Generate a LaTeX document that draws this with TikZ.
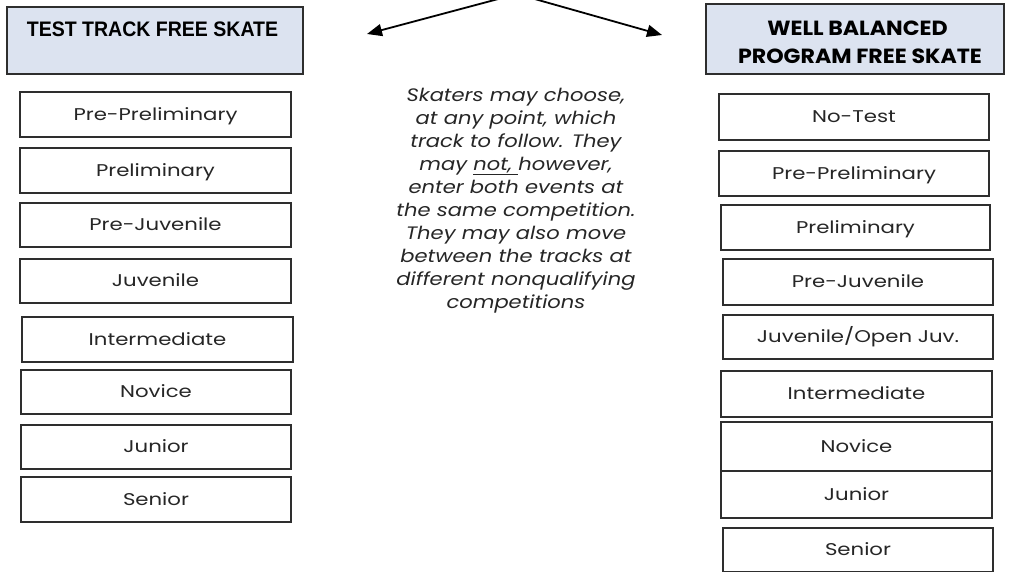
\documentclass[tikz,border=0pt]{standalone}
\usepackage{fontspec}
\usetikzlibrary{arrows.meta}
\newfontfamily\bodyfont{Poppins}[FakeStretch=1.25]
\newfontfamily\notefont{Poppins}[FakeStretch=1.17]
\newfontfamily\headfont{Liberation Sans}[FakeStretch=0.93]
\newfontfamily\headwidefont{Poppins}[FakeStretch=1.08]
\definecolor{boxgray}{HTML}{2E2E2E}
\definecolor{hdrfill}{HTML}{DCE3F0}
\definecolor{txt}{HTML}{262626}
\begin{document}
\begin{tikzpicture}[x=1pt,y=-1pt,
  lvl/.style={draw=boxgray, line width=1.3pt, inner sep=0pt, text=txt,
    font=\bodyfont\fontsize{17}{20}\selectfont, text height=13pt, text depth=2pt},
  hdr/.style={draw=boxgray, line width=1.2pt, fill=hdrfill, inner sep=0pt},
  hdrtext/.style={inner sep=0pt, text=black, font=\headfont\bfseries\fontsize{21}{28}\selectfont},
  hdrwide/.style={inner sep=0pt, text=black, font=\headwidefont\bfseries\fontsize{20.5}{28}\selectfont},
  note/.style={inner sep=0pt, text=txt, align=center,
    font=\notefont\itshape\fontsize{18}{23}\selectfont},
  pointer/.style={draw=black, line width=1.8pt, -{Triangle[length=15pt,width=12pt]}}]
\useasboundingbox (0,0) rectangle (1010,571);
\clip (0,0) rectangle (1010,571);
\fill[white] (0,0) rectangle (1010,571);

% headers
\node[hdr, minimum width=296pt, minimum height=67pt] (lh) at (155,40.5) {};
\node[hdrtext, anchor=base] (lht) at (152.5,36) {TEST TRACK FREE SKATE};
\node[hdr, minimum width=298pt, minimum height=70pt] (rh) at (855,39) {};
\node[hdrwide, anchor=base] (rht1) at (857.5,35) {WELL BALANCED};
\node[hdrwide, anchor=base] (rht2) at (860,63) {PROGRAM FREE SKATE};

% arrows
\coordinate (apex) at (517,-6);
\coordinate (lt) at (367,34);
\coordinate (rt) at (662,35);
\draw[pointer] (apex) -- (lt);
\draw[pointer] (apex) -- (rt);

% note
\node[note, anchor=north] (note) at (516,88) {Skaters may choose,\\ at any point, which\\ track to follow. They\\ may \underline{not, }however,\\ enter both events at\\ the same competition.\\ They may also move\\ between the tracks at\\ different nonqualifying\\ competitions};

% left column
\node[lvl, minimum width=271pt, minimum height=45pt] (l1) at (155.5,114.5) {Pre-Preliminary};
\node[lvl, minimum width=271pt, minimum height=45pt] (l2) at (155.5,170.5) {Preliminary};
\node[lvl, minimum width=271pt, minimum height=44pt] (l3) at (155.5,225) {Pre-Juvenile};
\node[lvl, minimum width=271pt, minimum height=44pt] (l4) at (155.5,281) {Juvenile};
\node[lvl, minimum width=271pt, minimum height=45pt] (l5) at (157.5,339.5) {Intermediate};
\node[lvl, minimum width=270pt, minimum height=44pt] (l6) at (156,392) {Novice};
\node[lvl, minimum width=270pt, minimum height=44pt] (l7) at (156,447) {Junior};
\node[lvl, minimum width=270pt, minimum height=45pt] (l8) at (156,499.5) {Senior};

% right column
\node[lvl, minimum width=270pt, minimum height=46pt] (r1) at (854,117) {No-Test};
\node[lvl, minimum width=270pt, minimum height=45pt] (r2) at (854,173.5) {Pre-Preliminary};
\node[lvl, minimum width=269pt, minimum height=45pt] (r3) at (855.5,227.5) {Preliminary};
\node[lvl, minimum width=270pt, minimum height=46pt] (r4) at (858,282) {Pre-Juvenile};
\node[lvl, minimum width=270pt, minimum height=44pt] (r5) at (858,337) {Juvenile/Open Juv.};
\node[lvl, minimum width=271pt, minimum height=46pt] (r6) at (856.5,394) {Intermediate};
\node[lvl, minimum width=271pt, minimum height=49pt] (r7) at (856.5,446.5) {Novice};
\node[lvl, minimum width=271pt, minimum height=47pt] (r8) at (856.5,494.5) {Junior};
\node[lvl, minimum width=270pt, minimum height=44pt] (r9) at (858,550) {Senior};
\end{tikzpicture}
\end{document}
